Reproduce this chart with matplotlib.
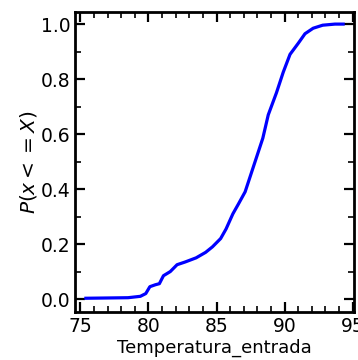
import matplotlib
matplotlib.use("Agg")
import matplotlib.pyplot as plt
from matplotlib.ticker import MultipleLocator

temperatura = [75.4, 77.0, 78.5, 79.4, 79.8, 80.1, 80.5, 80.8, 81.1, 81.6, 82.1, 82.7,
               83.5, 84.2, 84.7, 85.3, 85.7, 86.2, 86.6, 87.1, 87.5, 87.9, 88.4,
               88.8, 89.4, 89.9, 90.4, 91.0, 91.5, 92.1, 92.8, 93.7, 94.3]
prob = [0.003, 0.004, 0.005, 0.01, 0.02, 0.045, 0.052, 0.056, 0.085, 0.10, 0.125, 0.135,
        0.15, 0.17, 0.19, 0.22, 0.255, 0.31, 0.345, 0.39, 0.45, 0.51, 0.585,
        0.67, 0.75, 0.825, 0.89, 0.93, 0.965, 0.985, 0.996, 1.0, 1.0]

fig = plt.figure(figsize=(3.58, 3.60), dpi=100)
ax = fig.add_axes([75 / 358, 48 / 360, 279 / 358, 300 / 360])
ax.plot(temperatura, prob, color="blue", lw=2.3)

ax.set_xlim(74.6, 95.1)
ax.set_ylim(-0.047, 1.044)
ax.xaxis.set_major_locator(MultipleLocator(5))
ax.xaxis.set_minor_locator(MultipleLocator(1))
ax.yaxis.set_major_locator(MultipleLocator(0.2))
ax.yaxis.set_minor_locator(MultipleLocator(0.1))
ax.tick_params(which="both", direction="in", top=True, right=True, labelsize=13.5, width=1.6)
ax.tick_params(which="major", length=7)
ax.tick_params(which="minor", length=4, width=1.2)
for s in ax.spines.values():
    s.set_linewidth(2)

ax.set_xlabel("Temperatura_entrada", fontsize=13, labelpad=2)
ax.set_ylabel("$P(x<=X)$", fontsize=14.5, labelpad=1)

fig.savefig("out.png", dpi=100)
